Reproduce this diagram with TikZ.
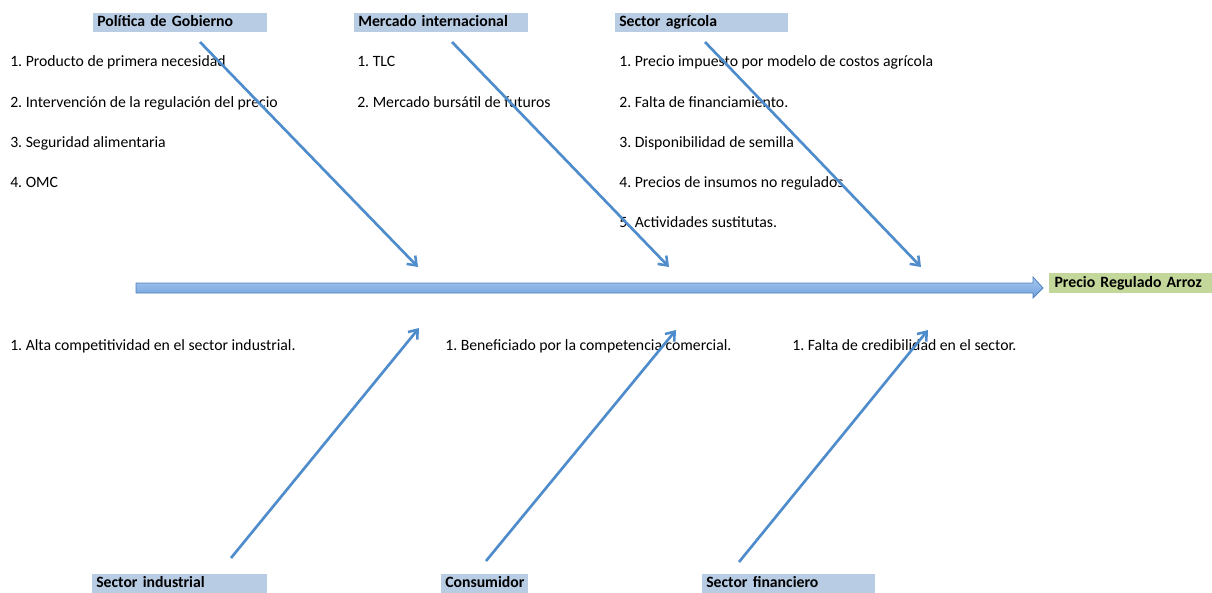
\documentclass[tikz,border=0pt]{standalone}
\usepackage{fontspec}
\setmainfont{Carlito}
\usetikzlibrary{positioning, arrows.meta}

\definecolor{headblue}{RGB}{184,204,228}
\definecolor{headgreen}{RGB}{196,215,155}
\definecolor{bonecol}{RGB}{79,140,203}
\definecolor{spinetop}{RGB}{170,202,240}
\definecolor{spinebot}{RGB}{110,158,220}
\definecolor{spineline}{RGB}{79,129,189}

\begin{document}
\frenchspacing
\begin{tikzpicture}[x=0.75pt, y=-0.75pt,
    every node/.style={font=\fontsize{11.8pt}{14pt}\selectfont},
    % Styles
    headbox/.style={fill=headblue, anchor=north west, text height=8.6pt, text depth=2.6pt, inner xsep=3pt, inner ysep=1.5pt, text width=#1, align=left, font=\fontsize{11.8pt}{14pt}\selectfont\bfseries},
    effect/.style={fill=headgreen, anchor=north west, text height=8.6pt, text depth=2.6pt, inner xsep=4pt, inner ysep=1.9pt, text width=#1, align=left, font=\fontsize{11.8pt}{14pt}\selectfont\bfseries},
    item/.style={anchor=base west, inner sep=0pt},
    bone/.style={-{Straight Barb[length=6pt, width=9pt, line width=1.9pt]}, bonecol, line width=2pt},
]

% Bounding box
\useasboundingbox (0,0) rectangle (1212,592);

% Effect
\node[effect=114.25pt] (arroz) at (1049,273) {Precio Regulado Arroz};

% Spine
\coordinate (spineS) at (136,288);
\coordinate (spineE) at (1043,288);
\shade[top color=spinetop, bottom color=spinebot, draw=spineline, line width=0.6pt]
    (136,283) -- (1033,283) -- (1033,277) -- (spineE) -- (1033,298) -- (1033,293) -- (136,293) -- cycle;

% Causes (top)
\node[headbox=124.5pt] (gobierno) at (93,13) {Política de Gobierno};
\node[headbox=124.5pt] (mercado) at (354,13) {Mercado internacional};
\node[headbox=123.75pt] (agricola) at (615,13) {Sector agrícola};

% Causes (bottom)
\node[headbox=125.25pt] (industrial) at (92,574) {Sector industrial};
\node[headbox=59.25pt] (consumidor) at (441,574) {Consumidor};
\node[headbox=123.75pt] (financiero) at (702,574) {Sector financiero};

% Items
\node[item] (g1) at (10,67) {1. Producto de primera necesidad};
\node[item] (g2) at (10,107) {2. Intervención de la regulación del precio};
\node[item] (g3) at (10,147) {3. Seguridad alimentaria};
\node[item] (g4) at (10,187) {4. OMC};

\node[item] (m1) at (357,67) {1. TLC};
\node[item] (m2) at (357,107) {2. Mercado bursátil de futuros};

\node[item] (a1) at (619,67) {1. Precio impuesto por modelo de costos agrícola};
\node[item] (a2) at (619,107) {2. Falta de financiamiento.};
\node[item] (a3) at (619,147) {3. Disponibilidad de semilla};
\node[item] (a4) at (619,187) {4. Precios de insumos no regulados};
\node[item] (a5) at (619,227) {5. Actividades sustitutas.};

\node[item] (i1) at (10,350) {1. Alta competitividad en el sector industrial.};
\node[item] (c1) at (445,350) {1. Beneficiado por la competencia comercial.};
\node[item] (f1) at (792,350) {1. Falta de credibilidad en el sector.};

% Bones
\coordinate (gobS) at (200,42);   \coordinate (gobE) at (418,267);
\coordinate (merS) at (452,42);   \coordinate (merE) at (669,267);
\coordinate (agrS) at (705,42);   \coordinate (agrE) at (921,267);
\coordinate (indS) at (231,558);  \coordinate (indE) at (419,328);
\coordinate (conS) at (486,561);  \coordinate (conE) at (676,330);
\coordinate (finS) at (739,562);  \coordinate (finE) at (928,330);

\draw[bone] (gobS) -- (gobE);
\draw[bone] (merS) -- (merE);
\draw[bone] (agrS) -- (agrE);
\draw[bone] (indS) -- (indE);
\draw[bone] (conS) -- (conE);
\draw[bone] (finS) -- (finE);

\end{tikzpicture}
\end{document}
